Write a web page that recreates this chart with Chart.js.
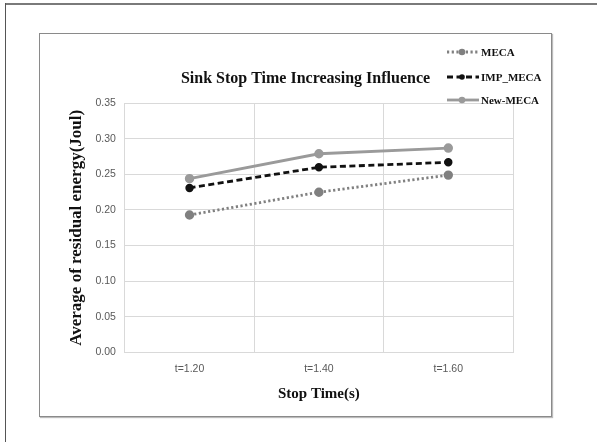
<!DOCTYPE html>
<html>
<head>
<meta charset="utf-8">
<script src="https://cdn.jsdelivr.net/npm/chart.js@4"></script>
<style>
  html, body { margin: 0; padding: 0; background: #fff; }
  body { width: 597px; height: 442px; position: relative; overflow: hidden; }
  #frameTop { position: absolute; left: 5px; top: 3px; width: 592px; height: 0; border-top: 2px solid #7a7a7a; }
  #frameLeft { position: absolute; left: 5px; top: 3px; width: 0; height: 439px; border-left: 1px solid #555; }
  #box { position: absolute; left: 39px; top: 33px; width: 511px; height: 382px; border: 1px solid #8a8a8a; box-shadow: 1px 1px 1px #bbb; }
  #wrap { position: absolute; left: 40px; top: 34px; width: 534px; height: 381px; }
</style>
</head>
<body>
<div id="frameTop"></div>
<div id="frameLeft"></div>
<div id="box"></div>
<div id="wrap"><canvas id="chart"></canvas></div>
<script>
// chart values
const categories = ['t=1.20', 't=1.40', 't=1.60'];
const mecaValues = [0.193, 0.225, 0.249];
const impMecaValues = [0.231, 0.260, 0.267];
const newMecaValues = [0.244, 0.279, 0.287];
const yTicks = [0, 0.05, 0.10, 0.15, 0.20, 0.25, 0.30, 0.35];

const serif = "'Liberation Serif', 'Times New Roman', serif";
const sans = "'Liberation Sans', Arial, sans-serif";

// legend drawn in the top right corner, stacked like the original
const cornerLegend = {
    id: 'cornerLegend',
    afterLayout(chart) {
        // the original title sits a bit right of the canvas centre
        chart.titleBlock.left += 29;
        chart.titleBlock.right += 29;
    },
    afterDraw(chart) {
        const ctx = chart.ctx;
        const rows = [18, 43, 66];
        const x0 = 407;
        ctx.save();
        chart.data.datasets.forEach((ds, i) => {
            const y = rows[i];
            ctx.strokeStyle = ds.borderColor;
            ctx.lineWidth = ds.borderWidth;
            ctx.setLineDash(ds.borderDash || []);
            ctx.beginPath();
            ctx.moveTo(x0, y);
            ctx.lineTo(x0 + 32, y);
            ctx.stroke();
            ctx.setLineDash([]);
            ctx.fillStyle = ds.pointBackgroundColor;
            ctx.beginPath();
            ctx.arc(x0 + 15, y, ds.pointRadius, 0, Math.PI * 2);
            ctx.fill();
            ctx.fillStyle = '#111';
            ctx.font = 'bold 11px ' + serif;
            ctx.textBaseline = 'middle';
            ctx.textAlign = 'left';
            ctx.fillText(ds.label, x0 + 34, y + 1);
        });
        ctx.restore();
    }
};

const ctx = document.getElementById('chart');
new Chart(ctx, {
    type: 'line',
    data: {
        labels: categories,
        datasets: [
            {
                label: 'MECA',
                data: mecaValues,
                borderColor: '#808080',
                borderWidth: 2.8,
                borderDash: [2.2, 2.5],
                pointBackgroundColor: '#808080',
                pointBorderColor: '#808080',
                pointRadius: 3.3,
            },
            {
                label: 'IMP_MECA',
                data: impMecaValues,
                borderColor: '#111111',
                borderWidth: 2.8,
                borderDash: [6, 3.5],
                pointBackgroundColor: '#111111',
                pointBorderColor: '#111111',
                pointRadius: 2.8,
            },
            {
                label: 'New-MECA',
                data: newMecaValues,
                borderColor: '#9a9a9a',
                borderWidth: 2.8,
                pointBackgroundColor: '#9a9a9a',
                pointBorderColor: '#9a9a9a',
                pointRadius: 3.3,
            }
        ]
    },
    options: {
        responsive: true,
        maintainAspectRatio: false,
        animation: false,
        layout: { padding: { left: 0, right: 61, top: 0, bottom: 8 } },
        plugins: {
            legend: { display: false },
            tooltip: { enabled: false },
            title: {
                display: true,
                text: 'Sink Stop Time Increasing Influence',
                color: '#111',
                font: { family: serif, size: 16, weight: 'bold' },
                padding: { top: 35, bottom: 15 }
            }
        },
        scales: {
            x: {
                offset: true,
                grid: { color: '#d9d9d9', offset: true, drawTicks: false },
                border: { color: '#d9d9d9' },
                ticks: { color: '#595959', font: { family: sans, size: 10.5 }, padding: 10 },
                title: {
                    display: true,
                    text: 'Stop Time(s)',
                    color: '#111',
                    font: { family: serif, size: 15, weight: 'bold' },
                    padding: { top: 0, bottom: 4 }
                }
            },
            y: {
                min: 0,
                max: 0.35,
                afterBuildTicks(scale) {
                    scale.ticks = yTicks.map(v => ({ value: v }));
                },
                grid: { color: '#d9d9d9', drawTicks: false },
                border: { color: '#d9d9d9' },
                ticks: {
                    color: '#595959',
                    font: { family: sans, size: 10.5 },
                    padding: 9,
                    callback: v => Number(v).toFixed(2)
                },
                title: {
                    display: true,
                    text: 'Average of residual energy(Joul)',
                    color: '#111',
                    font: { family: serif, size: 17, weight: 'bold' },
                    padding: { top: 26, bottom: 0 }
                }
            }
        }
    },
    plugins: [cornerLegend]
});
</script>
</body>
</html>
